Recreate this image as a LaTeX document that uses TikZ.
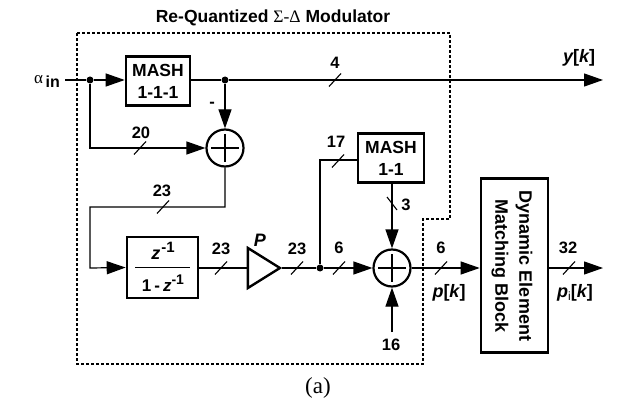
\documentclass[tikz,border=0pt]{standalone}
\usepackage{fontspec}
\setmainfont{Liberation Sans}
\newfontfamily\serifpart{Liberation Serif}
\usetikzlibrary{arrows.meta,shapes.geometric}
\tikzset{
  lbl/.style={font=\fontsize{16.5}{17}\selectfont\bfseries,inner sep=0pt},
  ilbl/.style={font=\fontsize{18}{19}\selectfont\bfseries\itshape,inner sep=0pt},
  block/.style={draw,line width=2.6pt,inner sep=0pt,align=center,font=\fontsize{17.5}{22}\selectfont\bfseries},
  sumnode/.style={draw,circle,line width=2.2pt,minimum size=37pt,inner sep=0pt},
  dotnode/.style={circle,fill,minimum size=7pt,inner sep=0pt},
  wire/.style={line width=1.2pt},
  arr/.style={wire,-{Triangle[length=19pt,width=13pt]},shorten >=0pt},
  tick/.style={line width=1.1pt},
  frame/.style={line width=1.3pt,dash pattern=on 2.6pt off 2.4pt},
}
\newcommand{\bus}[2]{\draw[tick] (#1-6,#2+6.5) -- (#1+6,#2-6.5);}
\begin{document}
\begin{tikzpicture}[x=1pt,y=-1pt]
\useasboundingbox (0,0) rectangle (621,401);
% frame
\draw[frame] (77,33) -- (450,33) -- (450,219) -- (423,219) -- (423,364) -- (77,364) -- cycle;
\node[inner sep=0pt,font=\fontsize{17.5}{18}\selectfont\bfseries] (title) at (273,18) {Re-Quantized {\serifpart\mdseries Σ-Δ} Modulator};
% nodes
\node[block,minimum width=64pt,minimum height=49pt] (m3) at (158,81) {MASH\\1-1-1};
\node[block,minimum width=66pt,minimum height=49pt] (m2) at (391,158) {MASH\\1-1};
\node[block,minimum width=71pt,minimum height=61pt] (h) at (162.5,267.5) {};
\node[inner sep=0pt,font=\fontsize{18}{19}\selectfont\bfseries] (hn) at (163,251) {\itshape z\kern1pt\raisebox{7pt}{\upshape\fontsize{15}{16}\selectfont -1}};
\node[inner sep=0pt,font=\fontsize{17}{18}\selectfont\bfseries] (hd) at (163,283) {1\kern3pt-\kern3pt\itshape z\raisebox{7pt}{\upshape\fontsize{14}{15}\selectfont -1}};
\coordinate (hl) at (135,267.5);
\coordinate (hr) at (190,267.5);
\draw[line width=1.6pt] (hl) -- (hr);
\node[block,minimum width=67pt,minimum height=174pt] (dem) at (514.5,265.5) {};
\node[rotate=-90,inner sep=0pt,align=center,font=\fontsize{18}{24}\selectfont\bfseries] (demt) at (512,266) {Dynamic Element\\Matching Block};
\node[sumnode] (s1) at (225,148) {};
\node[sumnode] (s2) at (392,268) {};
\draw[line width=1.9pt] (s1.center) ++(-14,0) -- ++(28,0) (s1.center) ++(0,-14) -- ++(0,28);
\draw[line width=1.9pt] (s2.center) ++(-14,0) -- ++(28,0) (s2.center) ++(0,-14) -- ++(0,28);
\node[draw,isosceles triangle,isosceles triangle apex angle=64,line width=2.4pt,minimum height=32pt,inner sep=0pt,minimum width=35pt] (amp) at (259,268) {};
\node[dotnode] (d1) at (90,80) {};
\node[dotnode] (d2) at (225,80) {};
\node[dotnode] (d3) at (320,268) {};
\coordinate (in) at (65,80);
\coordinate (yout) at (603,80);
\coordinate (pout) at (603,268);
\coordinate (c16) at (392,332);
\coordinate (k1) at (90,148);
\coordinate (k2) at (225,207);
\coordinate (k3) at (90,207);
\coordinate (k4) at (90,268);
\coordinate (k5) at (320,160);
% wires
\draw[wire] (in) -- (d1);
\draw[arr] (d1) -- (d1-|m3.west);
\draw[wire] (m3.east|-d2) -- (d2);
\draw[arr] (d2) -- (yout);
\draw[arr] (d2) -- (s1.north);
\draw[arr] (d1) -- (k1) -- (s1.west);
\draw[arr] (s1.south) -- (k2) -- (k3) -- (k4) -- (h.west);
\draw[wire] (h.east|-amp) -- (amp.west);
\draw[wire] (amp.apex) -- (d3);
\draw[arr] (d3) -- (s2.west);
\draw[wire] (d3) -- (k5) -- (k5-|m2.west);
\draw[arr] (m2.south-|s2) -- (s2.north);
\draw[arr] (c16) -- (s2.south);
\draw[arr] (s2.east) -- (dem.west|-s2);
\draw[arr] (dem.east|-s2) -- (pout);
% bus ticks
\bus{140}{148}\bus{335}{80}\bus{163}{207}\bus{221}{268}\bus{297}{268}\bus{339}{268}\bus{441}{268}\bus{569}{268}\bus{338}{161}
\draw[tick] (387,197) -- (397,210);
% labels
\node[lbl] (l20) at (141,133) {20};
\node[lbl] (l4) at (335,63) {4};
\node[lbl] (l23a) at (162,191) {23};
\node[lbl] (l23b) at (221,249) {23};
\node[lbl] (l23c) at (297,249) {23};
\node[lbl] (l17) at (336,142) {17};
\node[lbl] (l6a) at (339,248) {6};
\node[lbl] (l6b) at (441,248) {6};
\node[lbl] (l32) at (568,248) {32};
\node[lbl] (l3) at (406,205) {3};
\node[lbl] (l16) at (391,345) {16};
\node[lbl] (lm) at (212,105) {-};
\node[ilbl] (lp) at (260,240) {P};
\node[ilbl] (ly) at (579,58) {y\upshape[\itshape k\upshape]};
\node[ilbl] (lpk) at (449,293) {p\upshape[\itshape k\upshape]};
\node[ilbl] (lpi) at (575,293) {p\raisebox{-3pt}{\upshape\mdseries\fontsize{12}{13}\selectfont i}\upshape[\itshape k\upshape]};
\node[inner sep=0pt] (lin) at (47,81) {\fontsize{17}{18}\selectfont\serifpart α\raisebox{-4pt}{\fontspec{Liberation Sans}\bfseries\fontsize{16}{17}\selectfont\,in}};
\node[inner sep=0pt,font=\fontsize{23}{24}\selectfont\serifpart] (la) at (318,388) {(a)};
\end{tikzpicture}
\end{document}
